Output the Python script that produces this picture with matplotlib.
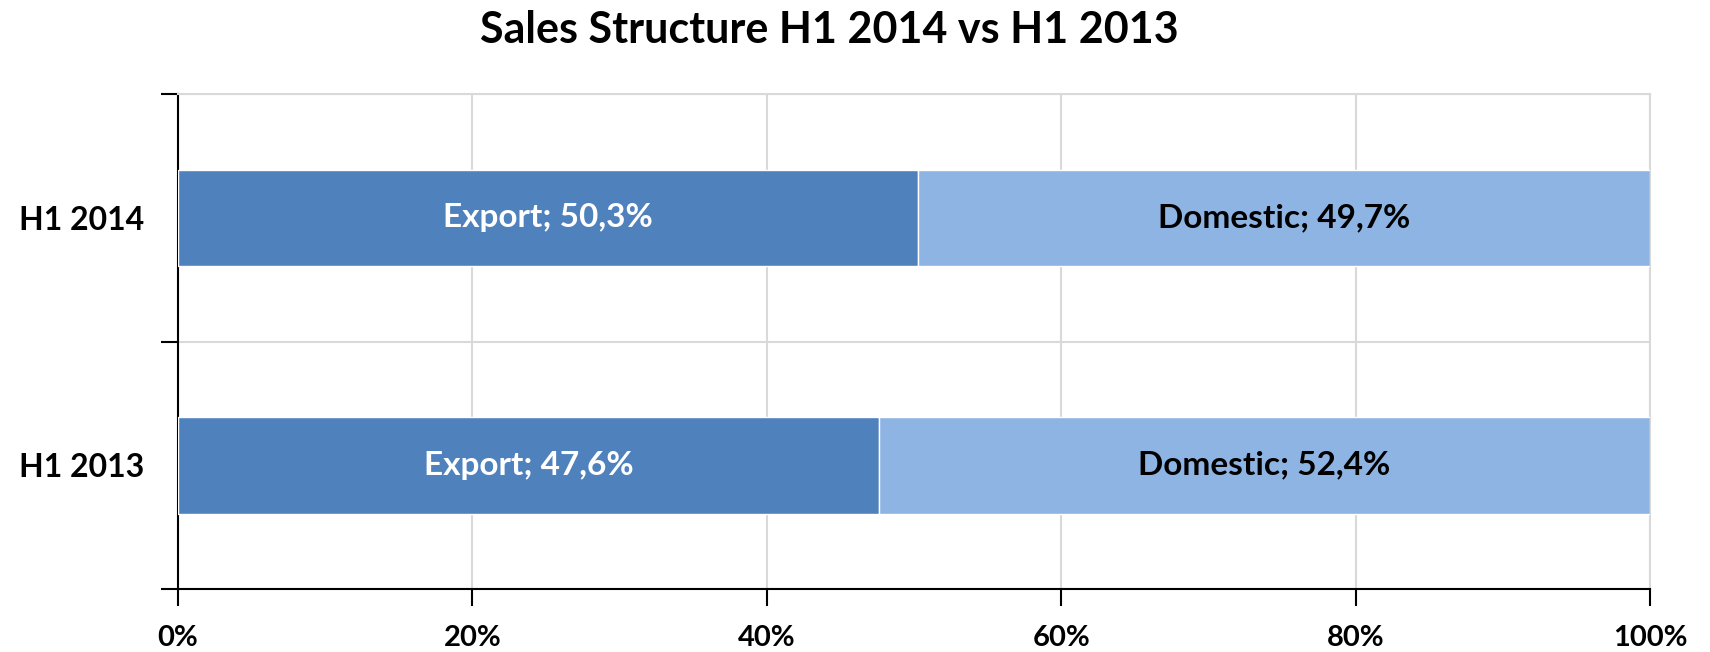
import matplotlib
matplotlib.use("Agg")
import matplotlib.pyplot as plt
import numpy as np
from matplotlib.ticker import FixedLocator, PercentFormatter

# ---- Data -------------------------------------------------------------
periods = ["H1 2013", "H1 2014"]
export_share = [47.6, 50.3]
domestic_share = [52.4, 49.7]
x_ticks = [0, 20, 40, 60, 80, 100]

EXPORT = "#4f81bd"
DOMESTIC = "#8eb4e3"
GRID = "#d9d9d9"

plt.rcParams.update({
    "font.family": ["Lato", "DejaVu Sans"],
    "font.weight": "bold",
})

fig = plt.figure(figsize=(17.1, 6.52), dpi=100)
ax = fig.add_axes([0.1041, 0.0966, 0.8608, 0.7592])

y = np.arange(len(periods))
h = 0.39
ax.barh(y, export_share, height=h, color=EXPORT, edgecolor="white", linewidth=1, zorder=3)
ax.barh(y, domestic_share, left=export_share, height=h, color=DOMESTIC,
        edgecolor="white", linewidth=1, zorder=3)

for yi, e, d in zip(y, export_share, domestic_share):
    ax.text(e / 2, yi, f"Export; {e:.1f}%".replace(".", ","), ha="center", va="center",
            color="white", fontsize=24, fontweight="bold", zorder=4)
    ax.text(e + d / 2, yi, f"Domestic; {d:.1f}%".replace(".", ","), ha="center", va="center",
            color="black", fontsize=24, fontweight="bold", zorder=4)

ax.set_xlim(0, 100)
ax.set_ylim(-0.5, 1.5)
ax.xaxis.set_major_locator(FixedLocator(x_ticks))
ax.xaxis.set_major_formatter(PercentFormatter(decimals=0))

# category axis: tick marks on boundaries, labels at centres
ax.set_yticks([-0.5, 0.5, 1.5])
ax.set_yticklabels([])
ax.set_yticks(y, minor=True)
ax.set_yticklabels(periods, minor=True)
ax.tick_params(axis="y", which="minor", length=0, pad=24, labelsize=23)
ax.tick_params(axis="y", which="major", length=12, width=1.5, direction="out")
ax.tick_params(axis="x", length=12, width=1.5, direction="out", pad=14, labelsize=21)

ax.grid(True, which="major", color=GRID, linewidth=1.5, zorder=0)
ax.set_axisbelow(True)
for s in ("top", "right"):
    ax.spines[s].set_color(GRID)
    ax.spines[s].set_linewidth(1.5)
for s in ("left", "bottom"):
    ax.spines[s].set_color("black")
    ax.spines[s].set_linewidth(1.5)

fig.text(0.485, 0.934, "Sales Structure H1 2014 vs H1 2013", ha="center", va="baseline",
         fontsize=31, fontweight="bold")

fig.savefig("out.png", dpi=100)
